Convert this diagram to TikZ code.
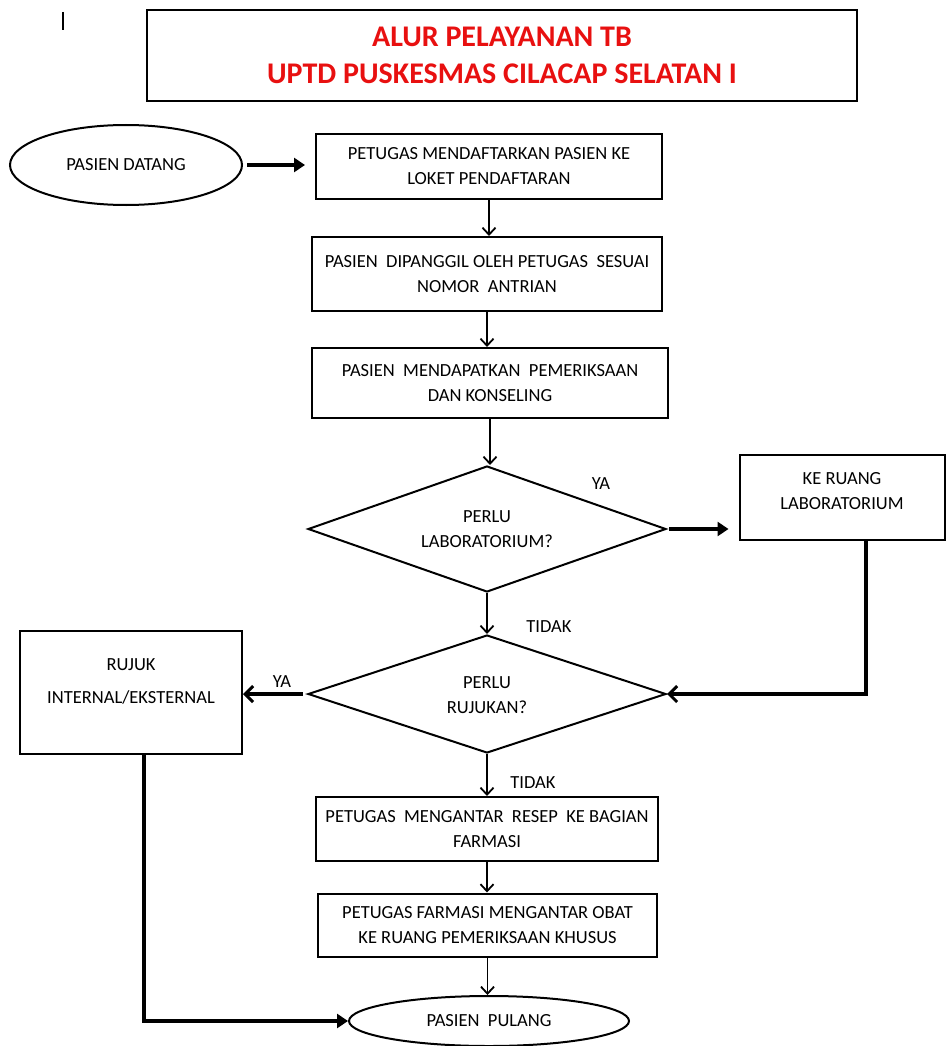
\documentclass[tikz,border=0pt]{standalone}
\usepackage{fontspec}
\setmainfont{Carlito}
\usepackage{tikz}
\usetikzlibrary{shapes.geometric,arrows.meta}
\definecolor{titlered}{RGB}{232,16,16}

\begin{document}
\begin{tikzpicture}[x=1pt,y=-1pt,
  txt/.style={font=\fontsize{18.5}{25}\selectfont},
  box/.style={txt,draw,line width=2pt,rectangle,align=center,inner sep=0pt},
  oval/.style={txt,draw,line width=2pt,ellipse,inner sep=0pt},
  dec/.style={txt,draw,line width=2pt,diamond,aspect=2.8,align=center,inner sep=0pt},
  varr/.style={line width=1.8pt,-{Straight Barb[length=7pt,width=13pt,line width=1.8pt]}},
  harr/.style={line width=4pt,-{Triangle[length=11pt,width=14pt]}},
  barr/.style={line width=4pt,-{Straight Barb[length=8pt,width=16pt,line width=3pt]}}]
\useasboundingbox (0,0) rectangle (945,1046);
\draw[line width=1.2pt] (63,12) -- (63,30);
\node[draw,line width=1.2pt,minimum width=710,minimum height=91,align=center,
  text=titlered,font=\fontsize{30}{37}\bfseries\selectfont] (title) at (502,55.5)
  {ALUR PELAYANAN TB\\UPTD PUSKESMAS CILACAP SELATAN I};
% alur utama
\node[oval,minimum width=232,minimum height=80] (datang) at (126,165) {PASIEN DATANG};
\node[box,minimum width=346,minimum height=65] (daftar) at (489,166.5)
  {PETUGAS MENDAFTARKAN PASIEN KE\\LOKET PENDAFTARAN};
\node[box,minimum width=350,minimum height=74] (panggil) at (487,274)
  {PASIEN\ \ DIPANGGIL OLEH PETUGAS\ \ SESUAI\\NOMOR\ \ ANTRIAN};
\node[box,minimum width=356,minimum height=70] (periksa) at (490,383)
  {PASIEN\ \ MENDAPATKAN\ \ PEMERIKSAAN\\DAN KONSELING};
\node[dec,minimum width=358,minimum height=126] (lab) at (487,529)
  {PERLU\\LABORATORIUM?};
\node[box,minimum width=205,minimum height=85] (ruanglab) at (842,497.5)
  {KE RUANG\\LABORATORIUM\\[-11pt]};
\node[dec,minimum width=358,minimum height=118] (rujukan) at (487,694)
  {\mbox{}\\[-11pt]PERLU\\RUJUKAN?};
\node[box,minimum width=222,minimum height=123] (rujuk) at (131,692.5)
  {RUJUK\\[8pt]INTERNAL/EKSTERNAL\\[-3pt]};
\node[box,minimum width=342,minimum height=64] (resep) at (487,829)
  {PETUGAS\ \ MENGANTAR\ \ RESEP\ \ KE BAGIAN\\FARMASI};
\node[box,minimum width=339,minimum height=63] (obat) at (487.5,925)
  {PETUGAS FARMASI MENGANTAR OBAT\\KE RUANG PEMERIKSAAN KHUSUS};
\node[oval,minimum width=280,minimum height=50] (pulang) at (489,1021) {PASIEN\ \ PULANG};
% label cabang
\node[txt] (ya1) at (601,484) {YA};
\node[txt] (tidak1) at (549,627) {TIDAK};
\node[txt] (ya2) at (282,682) {YA};
\node[txt] (tidak2) at (533,783) {TIDAK};
% panah
\draw[harr] ([xshift=4pt]datang.east) -- ([xshift=-10pt]datang.east -| daftar.west);
\foreach \a/\b in %
{daftar/panggil,panggil/periksa,periksa/lab,lab/rujukan,rujukan/resep,resep/obat,obat/pulang} {
  \draw[varr] (\a.south) -- (\a.south |- \b.north);
}
\draw[harr] ([xshift=2pt]lab.east) -- ([xshift=-10pt]lab.east -| ruanglab.west);
\draw[barr] ([xshift=24pt]ruanglab.south) |- (rujukan.east);
\draw[barr] ([xshift=-4pt]rujukan.west) -- (rujukan.west -| rujuk.east);
\draw[harr] ([xshift=13pt]rujuk.south) |- (pulang.west);
\end{tikzpicture}
\end{document}
